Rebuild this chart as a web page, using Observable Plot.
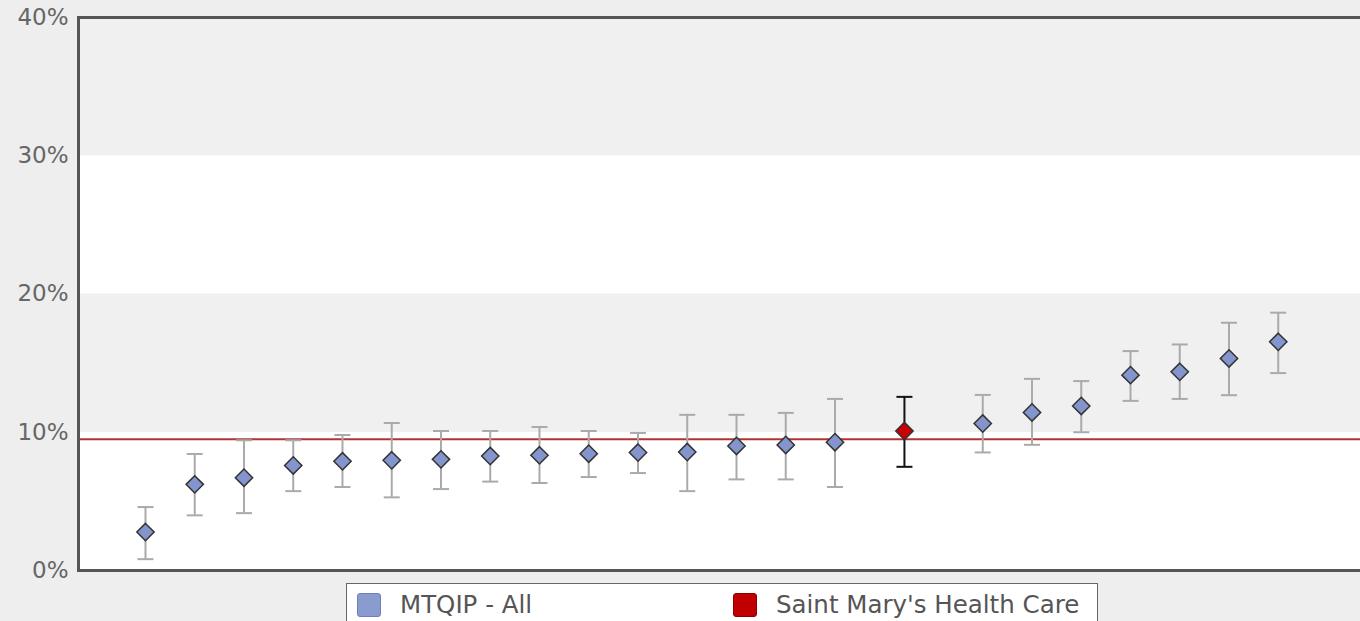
<!DOCTYPE html>
<html>
<head>
<meta charset="utf-8">
<script src="https://cdn.jsdelivr.net/npm/d3@7"></script>
<script src="https://cdn.jsdelivr.net/npm/@observablehq/plot@0.6"></script>
<style>
  html, body { margin: 0; padding: 0; background: #eeeeee; overflow: hidden; width: 1360px; height: 621px; }
  #chart { position: absolute; left: 0; top: 0; }
  #legend { position: absolute; left: 346px; top: 583px; width: 752px; height: 50px; background: #fff;
            border: 1.5px solid #666; box-sizing: border-box; font-family: "DejaVu Sans", sans-serif; font-size: 24.5px; color: #555; }
  .item { position: absolute; top: 6px; display: flex; align-items: center; }
  .sw { width: 24px; height: 24px; border-radius: 3px; box-sizing: border-box; margin-right: 19px; }
</style>
</head>
<body>
<div id="chart"></div>
<div id="legend">
  <div class="item" style="left:10px"><div class="sw" style="background:#8a9bcf;border:1px solid #6f80b5"></div><span>MTQIP - All</span></div>
  <div class="item" style="left:386px"><div class="sw" style="background:#c00000;border:1px solid #900000"></div><span>Saint Mary's Health Care</span></div>
</div>
<script>
// Hospital rank positions (ordered by rate)
const ranks = [1,2,3,4,5,6,7,8,9,10,11,12,13,14,15,18,19,20,21,22,23,24];
const rates = [2.78,6.23,6.71,7.6,7.9,7.97,8.04,8.28,8.33,8.45,8.53,8.57,9.01,9.08,9.28,10.63,11.43,11.9,14.13,14.37,15.34,16.54];
const lower = [0.82,3.99,4.15,5.74,6.04,5.29,5.89,6.43,6.33,6.76,7.05,5.74,6.59,6.59,6.04,8.54,9.09,10.0,12.27,12.41,12.68,14.28];
const upper = [4.59,8.43,9.42,9.42,9.8,10.67,10.09,10.09,10.38,10.09,9.95,11.26,11.26,11.4,12.41,12.7,13.86,13.7,15.87,16.35,17.92,18.65];

// Saint Mary's Health Care
const smRank = [16.41];
const smRate = [10.09];
const smLower = [7.5];
const smUpper = [12.56];

// Overall reference rate
const overallRate = [9.49];

const yTicks = [0, 10, 20, 30, 40];
const bandLo = [0, 10, 20, 30];
const bandHi = [10, 20, 30, 40];
const bandFill = ["#ffffff", "#f0f0f0", "#ffffff", "#f0f0f0"];

const all = ranks.map((r, i) => ({x: r, v: rates[i], lo: lower[i], hi: upper[i]}));
const sm = smRank.map((r, i) => ({x: r, v: smRate[i], lo: smLower[i], hi: smUpper[i]}));
const bands = bandLo.map((lo, i) => ({y1: lo, y2: bandHi[i], fill: bandFill[i]}));

const cap = { draw(ctx) { ctx.moveTo(-8, 0); ctx.lineTo(8, 0); } };

const chart = Plot.plot({
  width: 1360,
  height: 592,
  marginLeft: 78,
  marginRight: 0,
  marginTop: 17,
  marginBottom: 22,
  style: { background: "transparent", fontFamily: "DejaVu Sans, sans-serif" },
  x: { domain: [-0.36, 25.67], axis: null },
  y: { domain: [0, 40] },
  marks: [
    Plot.rect(bands, { y1: "y1", y2: "y2", fill: "fill" }),
    Plot.ruleY(overallRate, { stroke: "#b33333", strokeWidth: 2 }),
    Plot.ruleX(all, { x: "x", y1: "lo", y2: "hi", stroke: "#aaaaaa", strokeWidth: 2 }),
    Plot.dot(all, { x: "x", y: "lo", symbol: cap, stroke: "#aaaaaa", strokeWidth: 2, fill: "none" }),
    Plot.dot(all, { x: "x", y: "hi", symbol: cap, stroke: "#aaaaaa", strokeWidth: 2, fill: "none" }),
    Plot.ruleX(sm, { x: "x", y1: "lo", y2: "hi", stroke: "#111", strokeWidth: 2 }),
    Plot.dot(sm, { x: "x", y: "lo", symbol: cap, stroke: "#111", strokeWidth: 2, fill: "none" }),
    Plot.dot(sm, { x: "x", y: "hi", symbol: cap, stroke: "#111", strokeWidth: 2, fill: "none" }),
    Plot.dot(all, { x: "x", y: "v", symbol: "diamond2", r: 7.8, fill: "#8395cc", stroke: "#333", strokeWidth: 1.5 }),
    Plot.dot(sm, { x: "x", y: "v", symbol: "diamond2", r: 7.8, fill: "#cc0000", stroke: "#333", strokeWidth: 1.5 }),
    Plot.axisY({ ticks: yTicks, tickFormat: d => d + "%", tickSize: 0, tickPadding: 10, fontSize: 23, color: "#666", fill: "#666" }),
    Plot.frame({ anchor: "left", stroke: "#555", strokeWidth: 3 }),
    Plot.frame({ anchor: "top", stroke: "#555", strokeWidth: 3 }),
    Plot.frame({ anchor: "bottom", stroke: "#555", strokeWidth: 3 })
  ]
});
document.getElementById("chart").appendChild(chart);
</script>
</body>
</html>
